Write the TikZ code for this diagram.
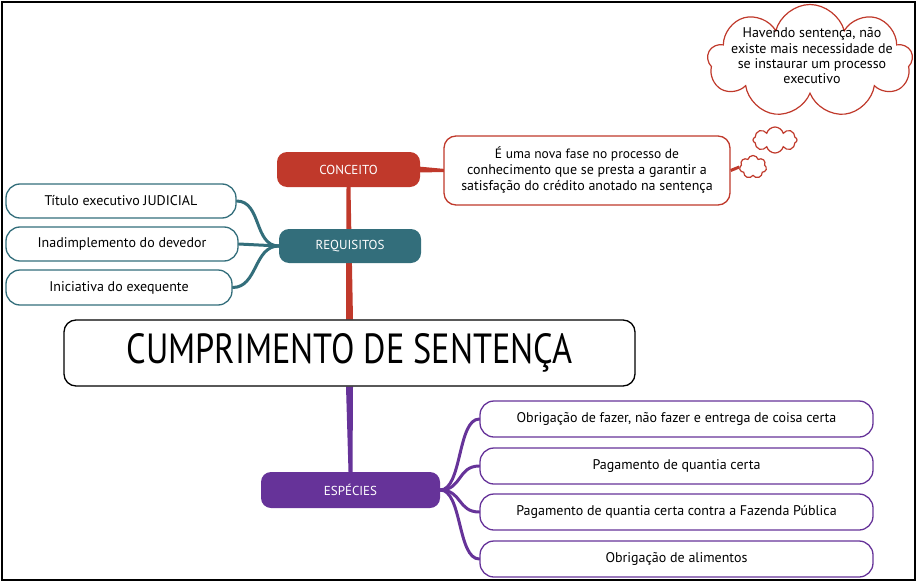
\documentclass[tikz,border=0pt]{standalone}
\usepackage{fontspec}
\setmainfont{PT Sans}
\usetikzlibrary{shapes.symbols,backgrounds,calc}
\definecolor{cred}{RGB}{192,57,43}
\definecolor{cteal}{RGB}{51,110,123}
\definecolor{cpurp}{RGB}{102,51,153}
\begin{document}
\begin{tikzpicture}[x=1pt,y=-1pt,
  topic/.style={rounded corners=10pt,text=white,font=\fontsize{13}{15}\selectfont,inner sep=0pt,align=center},
  leafbox/.style={draw,fill=white,rounded corners=14pt,line width=1.3pt,inner sep=0pt,font=\fontsize{14}{16}\selectfont,align=center},
  cloudy/.style={cloud,cloud puffs=#1,cloud ignores aspect,draw=cred,line width=1.2pt,fill=white,inner sep=0pt},
  branch/.style={line width=3pt,line cap=round}
]
\useasboundingbox (0,0) rectangle (917,583);
\draw[line width=2.5pt] (2,2) rectangle (915,580);

% central
\node[draw=black,fill=white,line width=1.3pt,rounded corners=12pt,minimum width=571pt,minimum height=66pt,inner sep=0pt] (main) at (349.5,353)
  {\resizebox{446pt}{30pt}{\fontsize{40}{40}\selectfont CUMPRIMENTO DE SENTENÇA}};

% conceito
\node[topic,fill=cred,minimum width=143pt,minimum height=35pt] (conceito) at (348.5,169.5) {CONCEITO};
\node[leafbox,draw=cred,rounded corners=12pt,minimum width=286pt,minimum height=69pt] (texto) at (587,170.5)
  {\fontsize{13.5}{16.5}\selectfont É uma nova fase no processo de\\conhecimento que se presta a garantir a\\satisfação do crédito anotado na sentença};
\node[cloudy=9,minimum width=205pt,minimum height=113pt] (bigcloud) at (810,61) {};
\node[align=center,font=\fontsize{14}{15.3}\selectfont,inner sep=0pt] (cloudtext) at (812,56)
  {Havendo sentença, não\\existe mais necessidade de\\se instaurar um processo\\executivo};
\node[cloudy=8,minimum width=44pt,minimum height=26pt] (cloudA) at (775,140) {};
\node[cloudy=7,minimum width=27pt,minimum height=23pt] (cloudB) at (753,167) {};

% requisitos
\node[topic,fill=cteal,minimum width=142pt,minimum height=34pt] (requisitos) at (350,246) {REQUISITOS};
\node[leafbox,draw=cteal,minimum width=230pt,minimum height=34pt] (r1) at (121,201) {Título executivo JUDICIAL};
\node[leafbox,draw=cteal,minimum width=232pt,minimum height=34pt] (r2) at (122,244) {Inadimplemento do devedor};
\node[leafbox,draw=cteal,minimum width=226pt,minimum height=35pt] (r3) at (119,287.5) {Iniciativa do exequente};

% especies
\node[topic,fill=cpurp,minimum width=179pt,minimum height=36pt] (especies) at (350.5,490) {ESPÉCIES};
\node[leafbox,draw=cpurp,minimum width=393pt,minimum height=36pt] (e1) at (676.5,419) {Obrigação de fazer, não fazer e entrega de coisa certa};
\node[leafbox,draw=cpurp,minimum width=393pt,minimum height=36pt] (e2) at (676.5,466) {Pagamento de quantia certa};
\node[leafbox,draw=cpurp,minimum width=393pt,minimum height=36pt] (e3) at (676.5,512) {Pagamento de quantia certa contra a Fazenda Pública};
\node[leafbox,draw=cpurp,minimum width=393pt,minimum height=36pt] (e4) at (676.5,559) {Obrigação de alimentos};

\begin{scope}[on background layer]
  % trunk lines (tapered)
  \fill[cred] ($(conceito.south)+(-2,0)$) -- ($(conceito.south)+(2,0)$) -- ($(main.north)+(3.5,0)$) -- ($(main.north)+(-3.5,0)$) -- cycle;
  \fill[cpurp] ($(main.south)+(-3.5,0)$) -- ($(main.south)+(3.5,0)$) -- ($(especies.north)+(2,0)$) -- ($(especies.north)+(-2,0)$) -- cycle;
  % conceito links
  \fill[cred] ($(conceito.east)+(-2,-3)$) -- ($(texto.west)+(2,-1.5)$) -- ($(texto.west)+(2,1.5)$) -- ($(conceito.east)+(-2,3)$) -- cycle;
  \draw[cred,line width=3pt] (texto.east) -- (cloudB.west);
  % requisitos branches
  \draw[cteal,branch] (requisitos.west) .. controls +(-25,0) and +(25,0) .. (r1.east);
  \draw[cteal,branch] (requisitos.west) -- (r2.east);
  \draw[cteal,branch] (requisitos.west) .. controls +(-25,0) and +(25,0) .. (r3.east);
  % especies branches
  \draw[cpurp,branch] (especies.east) .. controls +(22,0) and +(-22,0) .. (e1.west);
  \draw[cpurp,branch] (especies.east) .. controls +(22,0) and +(-22,0) .. (e2.west);
  \draw[cpurp,branch] (especies.east) .. controls +(22,0) and +(-22,0) .. (e3.west);
  \draw[cpurp,branch] (especies.east) .. controls +(22,0) and +(-22,0) .. (e4.west);
\end{scope}
\end{tikzpicture}
\end{document}
